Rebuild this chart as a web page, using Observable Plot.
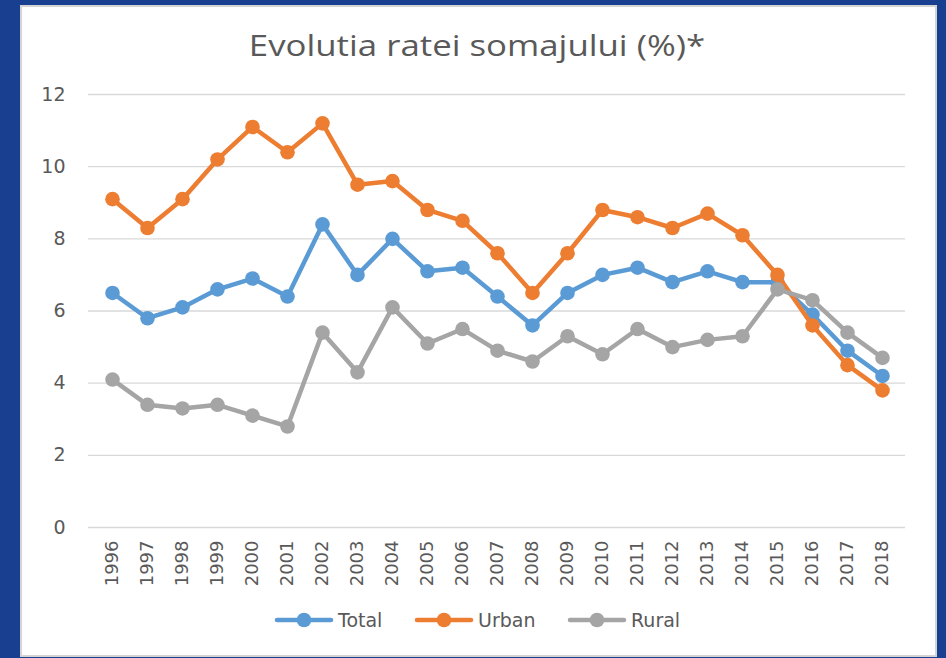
<!DOCTYPE html>
<html>
<head>
<meta charset="utf-8">
<script src="https://cdn.jsdelivr.net/npm/d3@7"></script>
<script src="https://cdn.jsdelivr.net/npm/@observablehq/plot@0.6"></script>
<style>
  html, body { margin: 0; padding: 0; }
  body { width: 946px; height: 658px; background: #183f90; position: relative; overflow: hidden; }
  #panel { position: absolute; left: 20px; top: 5px; width: 913px; height: 648px; background: #fff; border: 2px solid #d4d4d4; }
  #title { position: absolute; left: 4px; top: 24px; width: 946px; text-align: center; font-family: "Open Sans", sans-serif; font-size: 30px; line-height: normal; color: #595959; transform: scaleX(1.16); transform-origin: 473px 0; white-space: nowrap; }
  #chart { position: absolute; left: 0; top: 80px; }
  #legend { position: absolute; left: 0; top: 600px; }
</style>
</head>
<body>
<div id="panel"></div>
<div id="title">Evolutia ratei somajului (%)*</div>
<div id="chart"></div>
<div id="legend"></div>
<script>
const years = ["1996","1997","1998","1999","2000","2001","2002","2003","2004","2005","2006","2007","2008","2009","2010","2011","2012","2013","2014","2015","2016","2017","2018"];
const total = [6.5, 5.8, 6.1, 6.6, 6.9, 6.4, 8.4, 7.0, 8.0, 7.1, 7.2, 6.4, 5.6, 6.5, 7.0, 7.2, 6.8, 7.1, 6.8, 6.8, 5.9, 4.9, 4.2];
const urban = [9.1, 8.3, 9.1, 10.2, 11.1, 10.4, 11.2, 9.5, 9.6, 8.8, 8.5, 7.6, 6.5, 7.6, 8.8, 8.6, 8.3, 8.7, 8.1, 7.0, 5.6, 4.5, 3.8];
const rural = [4.1, 3.4, 3.3, 3.4, 3.1, 2.8, 5.4, 4.3, 6.1, 5.1, 5.5, 4.9, 4.6, 5.3, 4.8, 5.5, 5.0, 5.2, 5.3, 6.6, 6.3, 5.4, 4.7];
const seriesNames = ["Total", "Urban", "Rural"];
const seriesColors = ["#5b9bd5", "#ed7d31", "#a5a5a5"];
const yTicks = [0, 2, 4, 6, 8, 10, 12];

const seriesValues = [total, urban, rural];
const data = [];
seriesNames.forEach((name, i) => {
  years.forEach((yr, j) => data.push({series: name, year: yr, value: seriesValues[i][j]}));
});

const seriesMarks = seriesNames.flatMap(name => {
  const d = data.filter(r => r.series === name);
  return [
    Plot.line(d, {x: "year", y: "value", stroke: "series", strokeWidth: 4.5, strokeLinejoin: "round", strokeLinecap: "round"}),
    Plot.dot(d, {x: "year", y: "value", fill: "series", r: 7.3, stroke: "none"})
  ];
});

const chart = Plot.plot({
  width: 946,
  height: 520,
  marginTop: 14,
  marginBottom: 73,
  marginLeft: 88,
  marginRight: 41,
  style: {background: "transparent", color: "#595959", fontFamily: "DejaVu Sans, sans-serif"},
  x: {type: "point", domain: years, padding: 0.5, label: null},
  y: {domain: [0, 12], label: null},
  color: {domain: seriesNames, range: seriesColors},
  marks: [
    Plot.gridY(yTicks, {stroke: "#d9d9d9", strokeOpacity: 1, strokeWidth: 1.3}),
    Plot.axisY(yTicks, {tickSize: 0, tickPadding: 23, fontSize: 19, fill: "#595959", label: null}),
    Plot.axisX({tickSize: 0, tickRotate: -90, tickPadding: 13, fontSize: 18, fill: "#595959", label: null}),
    ...seriesMarks
  ]
});
document.getElementById("chart").appendChild(chart);

// Legend
const legendItems = [
  {name: seriesNames[0], color: seriesColors[0], x: 277},
  {name: seriesNames[1], color: seriesColors[1], x: 417},
  {name: seriesNames[2], color: seriesColors[2], x: 570}
];
const lsvg = d3.select("#legend").append("svg").attr("width", 946).attr("height", 40);
const g = lsvg.selectAll("g").data(legendItems).join("g").attr("transform", d => `translate(${d.x},20)`);
g.append("line").attr("x1", 0).attr("x2", 54).attr("y1", 0).attr("y2", 0).attr("stroke", d => d.color).attr("stroke-width", 4.5).attr("stroke-linecap", "round");
g.append("circle").attr("cx", 27).attr("cy", 0).attr("r", 7.3).attr("fill", d => d.color);
g.append("text").attr("x", 61).attr("y", 0).attr("dy", "0.35em").attr("font-family", "DejaVu Sans, sans-serif").attr("font-size", 19).attr("fill", "#595959").text(d => d.name);
</script>
</body>
</html>
